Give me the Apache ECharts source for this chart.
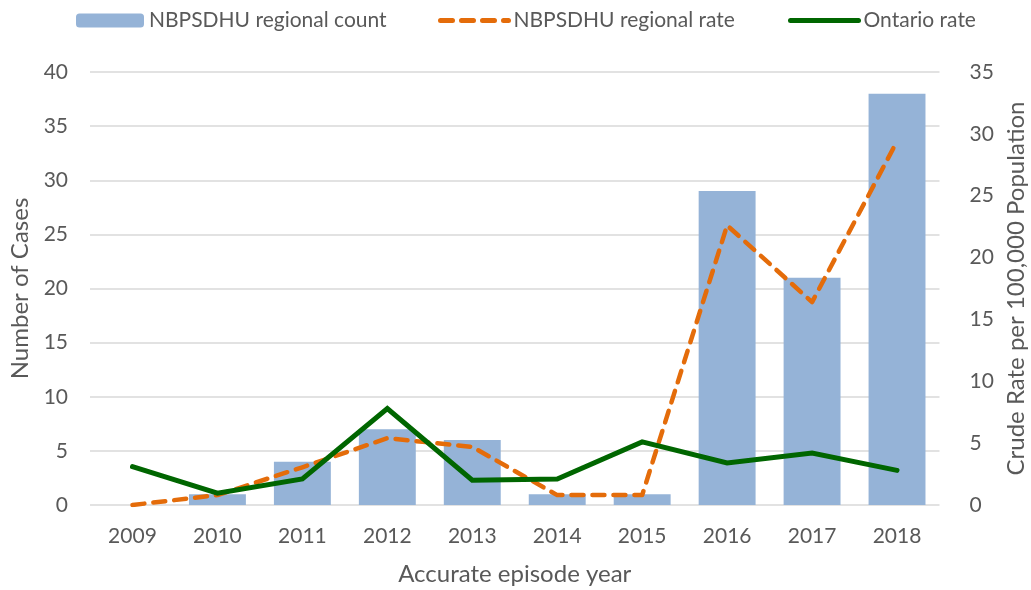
<!DOCTYPE html>
<html>
<head>
<meta charset="utf-8">
<script src="https://cdn.jsdelivr.net/npm/echarts@6/dist/echarts.min.js"></script>
<style>
  html, body { margin: 0; padding: 0; background: #fff; }
  #chart { width: 1031px; height: 590px; }
</style>
</head>
<body>
<div id="chart"></div>
<script>
  // data
  const years = ['2009', '2010', '2011', '2012', '2013', '2014', '2015', '2016', '2017', '2018']
  const regionalCount = [0, 1, 4, 7, 6, 1, 1, 29, 21, 38]
  const regionalRate = [0, 0.8, 3.05, 5.4, 4.7, 0.8, 0.8, 22.6, 16.4, 29.4]
  const ontarioRate = [3.1, 0.95, 2.1, 7.8, 2.0, 2.1, 5.1, 3.4, 4.2, 2.8]

  const txt = '#595959'
  const font = 'Lato, "Open Sans", sans-serif'

  const myChart = echarts.init(document.getElementById('chart'))

  const legendBase = {
    top: 5,
    itemWidth: 68,
    itemHeight: 14,
    itemGap: 8,
    textStyle: { color: txt, fontSize: 21, fontFamily: font }
  }

  const option = {
    animation: false,
    textStyle: { fontFamily: font },
    legend: [
      Object.assign({}, legendBase, { left: 71, data: ['NBPSDHU regional count'] }),
      Object.assign({}, legendBase, { left: 433, data: ['NBPSDHU regional rate'], lineStyle: { width: 5 }, itemStyle: { opacity: 0 } }),
      Object.assign({}, legendBase, { left: 783, itemGap: 3, data: ['Ontario rate'], lineStyle: { width: 5 }, itemStyle: { opacity: 0 } })
    ],
    grid: { left: 90, right: 91.5, top: 72, bottom: 85, outerBoundsMode: 'none' },
    xAxis: {
      type: 'category',
      data: years,
      name: 'Accurate episode year',
      nameLocation: 'middle',
      nameGap: 57,
      nameTextStyle: { color: txt, fontSize: 24, fontFamily: font },
      axisLine: { show: false },
      axisTick: { show: false },
      axisLabel: { color: txt, fontSize: 21, margin: 21, fontFamily: font }
    },
    yAxis: [
      {
        type: 'value',
        min: 0,
        max: 40,
        interval: 5,
        name: 'Number of Cases',
        nameLocation: 'middle',
        nameGap: 56,
        nameTextStyle: { color: txt, fontSize: 24, fontFamily: font },
        axisLine: { show: false },
        axisTick: { show: false },
        axisLabel: { color: txt, fontSize: 21, margin: 22, fontFamily: font },
        splitLine: { lineStyle: { color: '#d9d9d9', width: 1.5 } }
      },
      {
        type: 'value',
        min: 0,
        max: 35,
        interval: 5,
        name: 'Crude Rate per 100,000 Population',
        nameLocation: 'middle',
        nameGap: 65,
        nameRotate: 90,
        nameTextStyle: { color: txt, fontSize: 24, fontFamily: font },
        axisLine: { show: false },
        axisTick: { show: false },
        axisLabel: { color: txt, fontSize: 21, margin: 30, fontFamily: font },
        splitLine: { show: false }
      }
    ],
    series: [
      {
        name: 'NBPSDHU regional count',
        type: 'bar',
        yAxisIndex: 0,
        barCategoryGap: '33%',
        itemStyle: { color: '#95b3d7' },
        data: regionalCount
      },
      {
        name: 'NBPSDHU regional rate',
        type: 'line',
        yAxisIndex: 1,
        symbol: 'none',
        lineStyle: { color: '#e46c0a', width: 4.5, type: [12, 9], cap: 'round', join: 'round' },
        itemStyle: { color: '#e46c0a' },
        data: regionalRate
      },
      {
        name: 'Ontario rate',
        type: 'line',
        yAxisIndex: 1,
        symbol: 'none',
        lineStyle: { color: '#006600', width: 5, cap: 'round', join: 'miter' },
        itemStyle: { color: '#006600' },
        data: ontarioRate
      }
    ]
  }

  myChart.setOption(option)
</script>
</body>
</html>
